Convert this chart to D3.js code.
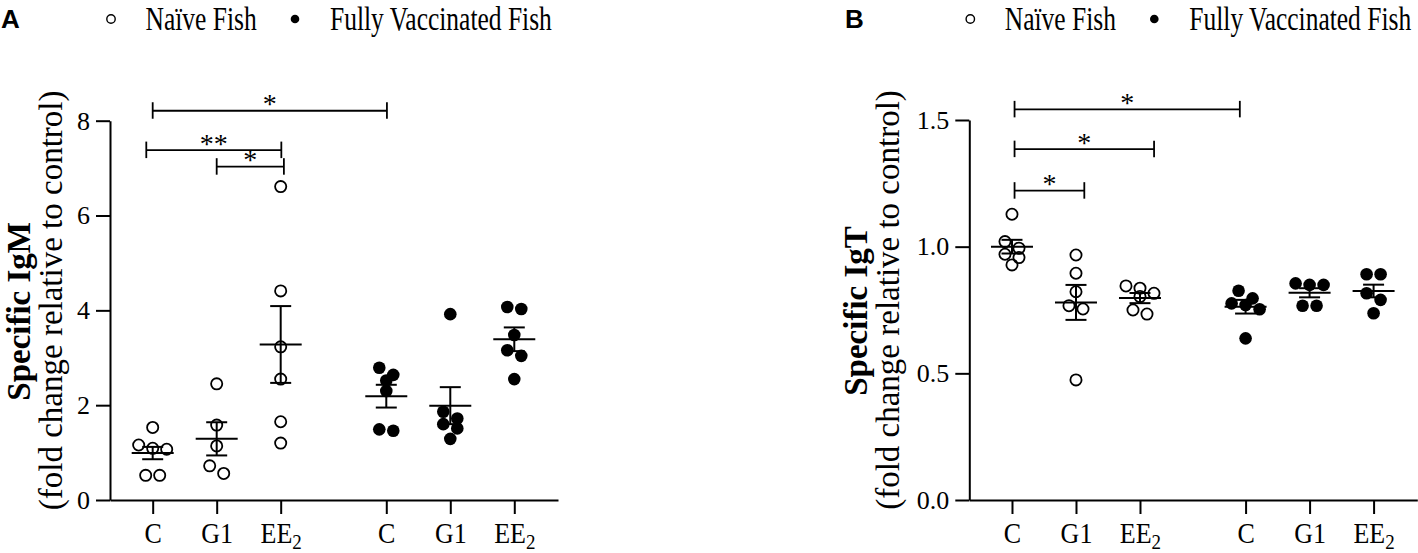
<!DOCTYPE html>
<html>
<head>
<meta charset="utf-8">
<script src="https://cdn.jsdelivr.net/npm/d3@7"></script>
<style>
  body { margin: 0; background: #fff; }
  svg { display: block; }
  text { font-family: "Liberation Serif", "Times New Roman", serif; fill: #000; }
</style>
</head>
<body>
<svg id="chart" width="1418" height="553"></svg>
<script>
// categories
const groupLabels = ["C", "G1", "EE2", "C", "G1", "EE2"];
const groupStatus = ["naive", "naive", "naive", "vaccinated", "vaccinated", "vaccinated"];
const groupSlots = [0, 1, 2, 3.65, 4.65, 5.65];
const legendLabels = ["Naïve Fish", "Fully Vaccinated Fish"];

// panel A: specific IgM
const igmPoints = [
  [1.53, 1.16, 1.09, 1.07, 0.52, 0.52],
  [2.45, 1.58, 1.14, 0.72, 0.56],
  [6.61, 4.41, 3.23, 2.55, 1.65, 1.2],
  [2.79, 2.64, 2.52, 2.3, 1.49, 1.46],
  [3.92, 1.86, 1.72, 1.6, 1.51, 1.29],
  [4.07, 4.03, 3.48, 3.16, 3.04, 2.55]
];
const igmMean = [0.99, 1.29, 3.28, 2.19, 1.99, 3.39];
const igmSem = [0.13, 0.35, 0.81, 0.24, 0.39, 0.25];
const igmTicks = [0, 2, 4, 6, 8];
const igmBrackets = [
  { from: 0, to: 3.66, y: 8.21, label: "*" },
  { from: -0.1, to: 2.01, y: 7.38, label: "**" },
  { from: 1, to: 2.05, y: 7.03, label: "*" }
];

// panel B: specific IgT
const igtPoints = [
  [1.128, 1.02, 0.994, 0.97, 0.957, 0.928],
  [0.967, 0.895, 0.822, 0.767, 0.754, 0.474],
  [0.845, 0.836, 0.816, 0.803, 0.75, 0.734],
  [0.826, 0.796, 0.776, 0.77, 0.753, 0.638],
  [0.855, 0.849, 0.849, 0.767, 0.767],
  [0.891, 0.891, 0.816, 0.79, 0.737]
];
const igtMean = [1.0, 0.78, 0.797, 0.763, 0.818, 0.825];
const igtSem = [0.027, 0.069, 0.02, 0.027, 0.018, 0.025];
const igtTicks = [0, 0.5, 1.0, 1.5];
const igtBrackets = [
  { from: 0.04, to: 3.56, y: 1.542, label: "*" },
  { from: 0.04, to: 2.22, y: 1.385, label: "*" },
  { from: 0.04, to: 1.13, y: 1.221, label: "*" }
];

const svg = d3.select("#chart");

// text squeezed horizontally like the original figure
const stretched = (parent, x, y, sy) =>
  parent.append("text").attr("transform", `translate(${x},${y}) scale(1,${sy})`);

// GraphPad-like scatter: points at similar height are spread into a row
const dodge = (values, yScale, thresh = 9, step = 14) => {
  const order = values.map((_, i) => i).sort((a, b) => values[b] - values[a]);
  const offsets = values.map(() => 0);
  let row = [];
  const flush = () => {
    row.forEach((k, j) => (offsets[k] = (j - (row.length - 1) / 2) * step));
    row = [];
  };
  order.forEach((k) => {
    if (row.length && Math.abs(yScale(values[k]) - yScale(values[row[0]])) > thresh) flush();
    row.push(k);
  });
  flush();
  return offsets;
};

const drawPanel = (props) => {
  const { letter, letterX, originX, top, yMax, ticks, tickFormat, points, means, sems,
    brackets, title, titleShift } = props;
  const bottom = 500;

  const x = d3.scaleLinear().domain([-0.667, 6.333]).range([originX, originX + 448]);
  const y = d3.scaleLinear().domain([0, yMax]).range([bottom, top]);

  const g = svg.append("g");

  // panel letter
  g.append("text")
    .attr("x", letterX).attr("y", 27.5)
    .style("font-family", "'Liberation Sans', Arial, sans-serif")
    .style("font-weight", "bold").style("font-size", "26px")
    .text(letter);

  // legend
  const legend = g.append("g");
  legend.append("circle").attr("cx", originX + 1).attr("cy", 19).attr("r", 4.2)
    .attr("fill", "none").attr("stroke", "#000").attr("stroke-width", 1.4);
  stretched(legend, originX + 35.5, 30, 1.3).style("font-size", "25.5px").text(legendLabels[0]);
  legend.append("circle").attr("cx", originX + 185).attr("cy", 19).attr("r", 4.3).attr("fill", "#000");
  stretched(legend, originX + 220, 30, 1.3).style("font-size", "25.5px").text(legendLabels[1]);

  // y axis
  const yAxis = g.append("g").attr("transform", `translate(${originX},0)`)
    .call(d3.axisLeft(y).tickValues(ticks).tickSize(14).tickSizeOuter(0).tickPadding(6)
      .tickFormat(tickFormat));
  yAxis.selectAll("path, line").attr("stroke", "#000").attr("stroke-width", 2);
  yAxis.selectAll("text").style("font-size", "26px");
  yAxis.attr("font-family", null);

  // x axis
  const xAxis = g.append("g").attr("transform", `translate(0,${bottom})`)
    .call(d3.axisBottom(x).tickValues(groupSlots).tickSize(14).tickSizeOuter(0)
      .tickFormat((d, i) => groupLabels[i]));
  xAxis.selectAll("path, line").attr("stroke", "#000").attr("stroke-width", 2);
  xAxis.attr("font-family", null);
  xAxis.selectAll("text")
    .attr("y", null).attr("dy", null)
    .attr("transform", "translate(0,43) scale(1,1.15)")
    .style("font-size", "26px")
    .each(function (d, i) {
      const label = groupLabels[i];
      const t = d3.select(this);
      if (label === "EE2") {
        t.text("EE");
        t.append("tspan").attr("dy", 5).style("font-size", "19px").text("2");
      }
    });

  // y title
  const midY = (top + bottom) / 2;
  g.append("text")
    .attr("transform", `translate(${originX - 80.5 + titleShift},${midY + 1}) rotate(-90)`)
    .attr("text-anchor", "middle")
    .style("font-weight", "bold").style("font-size", "33px")
    .text(title);
  g.append("text")
    .attr("transform", `translate(${originX - 48 + titleShift},${midY - 10}) rotate(-90)`)
    .attr("text-anchor", "middle")
    .style("font-size", "33px")
    .text("(fold change relative to control)");

  // scatter points
  points.forEach((vals, i) => {
    const offs = dodge(vals, y);
    const naive = groupStatus[i] === "naive";
    g.append("g").selectAll("circle").data(vals).join("circle")
      .attr("cx", (d, k) => x(groupSlots[i]) + offs[k])
      .attr("cy", (d) => y(d))
      .attr("r", naive ? 5.6 : 6.3)
      .attr("fill", naive ? "none" : "#000")
      .attr("stroke", naive ? "#000" : "none")
      .attr("stroke-width", 1.8);
  });

  // mean +/- SEM
  const stats = g.append("g").attr("stroke", "#000").attr("stroke-width", 2);
  means.forEach((m, i) => {
    const cx = x(groupSlots[i]);
    stats.append("line").attr("x1", cx - 21).attr("x2", cx + 21)
      .attr("y1", y(m)).attr("y2", y(m));
    stats.append("line").attr("x1", cx).attr("x2", cx)
      .attr("y1", y(m - sems[i])).attr("y2", y(m + sems[i]));
    [m - sems[i], m + sems[i]].forEach((v) =>
      stats.append("line").attr("x1", cx - 10.5).attr("x2", cx + 10.5)
        .attr("y1", y(v)).attr("y2", y(v)));
  });

  // significance brackets
  const sig = g.append("g");
  brackets.forEach((b) => {
    const x1 = x(b.from), x2 = x(b.to), by = y(b.y);
    const lines = sig.append("g").attr("stroke", "#000").attr("stroke-width", 1.8);
    lines.append("line").attr("x1", x1).attr("x2", x2).attr("y1", by).attr("y2", by);
    [x1, x2].forEach((bx) =>
      lines.append("line").attr("x1", bx).attr("x2", bx).attr("y1", by - 8.5).attr("y2", by + 8));
    sig.append("text").attr("x", (x1 + x2) / 2).attr("y", by + 2.5)
      .attr("text-anchor", "middle").style("font-size", "28px").text(b.label);
  });
};

drawPanel({
  letter: "A", letterX: 1, originX: 110, top: 120.7, yMax: 8,
  ticks: igmTicks, tickFormat: d3.format("d"),
  points: igmPoints, means: igmMean, sems: igmSem,
  brackets: igmBrackets, title: "Specific IgM", titleShift: 0
});

drawPanel({
  letter: "B", letterX: 845, originX: 969.3, top: 120, yMax: 1.5,
  ticks: igtTicks, tickFormat: d3.format(".1f"),
  points: igtPoints, means: igtMean, sems: igtSem,
  brackets: igtBrackets, title: "Specific IgT", titleShift: -22
});
</script>
</body>
</html>
